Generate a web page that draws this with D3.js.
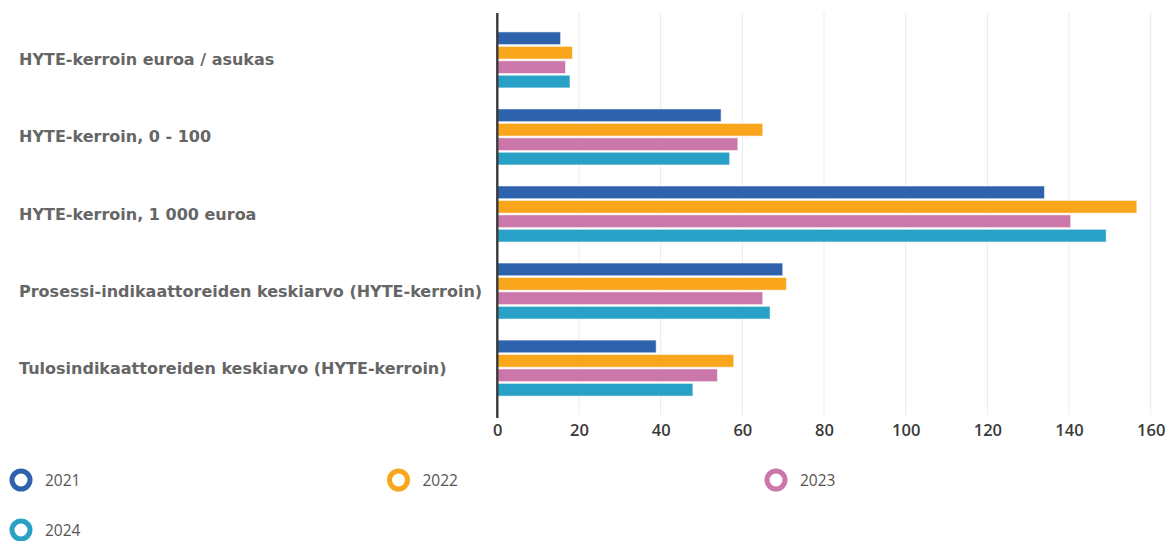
<!DOCTYPE html>
<html>
<head>
<meta charset="utf-8">
<script src="https://cdn.jsdelivr.net/npm/d3@7"></script>
<style>
  html, body { margin: 0; padding: 0; background: #fff; }
  svg { display: block; }
</style>
</head>
<body>
<svg id="chart" width="1170" height="541"></svg>
<script>
// Indicator names (one bar group each)
const categories = [
  "HYTE-kerroin euroa / asukas",
  "HYTE-kerroin, 0 - 100",
  "HYTE-kerroin, 1 000 euroa",
  "Prosessi-indikaattoreiden keskiarvo (HYTE-kerroin)",
  "Tulosindikaattoreiden keskiarvo (HYTE-kerroin)"
];

// Years shown as series
const years = ["2021", "2022", "2023", "2024"];

// Values per year, in category order
const values2021 = [15.5, 54.8, 134.0, 69.9, 38.9];
const values2022 = [18.4, 65.0, 156.6, 70.8, 57.9];
const values2023 = [16.7, 58.9, 140.4, 65.0, 53.9];
const values2024 = [17.8, 56.9, 149.1, 66.8, 47.9];

// x axis ticks
const xTicks = [0, 20, 40, 60, 80, 100, 120, 140, 160];

const seriesColors = ["#2e62ad", "#f9a61d", "#cb77a9", "#29a1c6"];

const seriesValues = [values2021, values2022, values2023, values2024];
const series = years.map((y, i) => ({ year: y, color: seriesColors[i], values: seriesValues[i] }));

const svg = d3.select("#chart");

const x = d3.scaleLinear().domain([0, 160]).range([497.3, 1150.7]);

const y0 = d3.scaleBand()
  .domain(categories)
  .range([11.5, 416.5])
  .paddingInner(0.273)
  .paddingOuter(0.265);

const y1 = d3.scaleBand()
  .domain(years)
  .range([0, y0.bandwidth()])
  .paddingInner(0.12)
  .paddingOuter(0);

const plotTop = 13, plotBottom = 417;

// vertical grid lines
svg.append("g")
  .selectAll("line")
  .data(xTicks.filter(t => t > 0))
  .join("line")
  .attr("x1", d => x(d)).attr("x2", d => x(d))
  .attr("y1", plotTop).attr("y2", plotBottom - 2)
  .attr("stroke", "#ebebeb")
  .attr("stroke-width", 1);

// bars
const groups = svg.append("g")
  .selectAll("g")
  .data(categories)
  .join("g")
  .attr("transform", d => `translate(0,${y0(d)})`);

groups.selectAll("rect")
  .data((c, ci) => series.map(s => ({ year: s.year, color: s.color, value: s.values[ci] })))
  .join("rect")
  .attr("x", x(0))
  .attr("y", d => y1(d.year))
  .attr("width", d => x(d.value) - x(0))
  .attr("height", y1.bandwidth())
  .attr("fill", d => d.color)
  .attr("stroke", "rgba(255,255,255,0.55)")
  .attr("stroke-width", 1);

// category labels
svg.append("g")
  .selectAll("text")
  .data(categories)
  .join("text")
  .attr("x", 19)
  .attr("y", d => y0(d) + y0.bandwidth() / 2 + 5.5)
  .attr("font-family", "DejaVu Sans, sans-serif")
  .attr("font-weight", "bold")
  .attr("font-size", 16)
  .attr("fill", "#666")
  .text(d => d);

// left axis line
svg.append("line")
  .attr("x1", x(0)).attr("x2", x(0))
  .attr("y1", plotTop).attr("y2", plotBottom + 1)
  .attr("stroke", "#3a3a3a")
  .attr("stroke-width", 2.4);

// x axis tick labels
const xAxis = d3.axisBottom(x).tickValues(xTicks).tickSize(0).tickPadding(0).tickFormat(d3.format("d"));
const gx = svg.append("g")
  .attr("transform", "translate(0,424)")
  .call(xAxis);
gx.select(".domain").remove();
gx.selectAll("text")
  .attr("dy", "0.72em")
  .attr("font-family", "Open Sans, sans-serif")
  .attr("font-weight", 600)
  .attr("font-size", 16.5)
  .attr("fill", "#3a3a3a");

// legend
const legendPos = [
  { x: 21, y: 480 },
  { x: 398.5, y: 480 },
  { x: 776, y: 480 },
  { x: 21, y: 530 }
];
const legend = svg.append("g")
  .selectAll("g")
  .data(series)
  .join("g")
  .attr("transform", (d, i) => `translate(${legendPos[i].x},${legendPos[i].y})`);

legend.append("circle")
  .attr("r", 9)
  .attr("fill", "#fff")
  .attr("stroke", d => d.color)
  .attr("stroke-width", 5);

legend.append("text")
  .attr("x", 24)
  .attr("y", 6)
  .attr("font-family", "Open Sans, sans-serif")
  .attr("font-size", 15.5)
  .attr("fill", "#555")
  .text(d => d.year);
</script>
</body>
</html>
